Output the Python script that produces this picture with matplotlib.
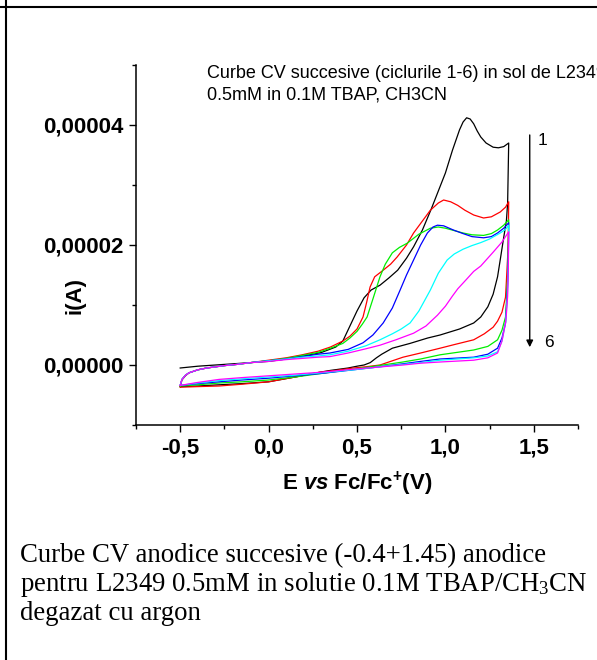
import numpy as np
import matplotlib.pyplot as plt
from matplotlib.lines import Line2D
from matplotlib.ticker import FuncFormatter, MultipleLocator

plt.rcParams['font.family'] = ['Liberation Sans', 'DejaVu Sans']
plt.rcParams['mathtext.fontset'] = 'custom'
plt.rcParams['mathtext.rm'] = 'Liberation Sans:bold'
plt.rcParams['mathtext.it'] = 'Liberation Sans:italic:bold'
plt.rcParams['mathtext.bf'] = 'Liberation Sans:bold'

# CV cycles 1-6: potential (V vs Fc/Fc+) and current (uA), forward then reverse sweep
E1 = [-0.50, -0.40, -0.30, -0.20, -0.10, 0.00, 0.10, 0.20, 0.30, 0.38, 0.42, 0.46, 0.50,
      0.54, 0.58, 0.63, 0.68, 0.73, 0.78, 0.82, 0.87, 0.92, 0.96, 1.00, 1.04, 1.08, 1.10,
      1.12, 1.14, 1.16, 1.18, 1.20, 1.23, 1.27, 1.30, 1.33, 1.358,
      1.355, 1.352, 1.345, 1.33, 1.31, 1.295, 1.27, 1.24, 1.20, 1.16, 1.08, 0.97, 0.90,
      0.80, 0.70, 0.64, 0.61, 0.575, 0.54, 0.50, 0.45, 0.35, 0.29, 0.15, 0.00, -0.15,
      -0.28, -0.40, -0.50]
I1 = [-0.5, -0.2, 0.0, 0.2, 0.4, 0.6, 1.0, 1.5, 2.1, 3.0, 4.0, 6.5, 9.0,
      11.2, 12.5, 13.3, 14.5, 15.8, 17.8, 19.7, 22.5, 26.0, 29.0, 32.0, 35.8, 39.2, 40.5,
      41.2, 41.0, 40.2, 39.0, 38.0, 37.0, 36.3, 36.2, 36.4, 37.0,
      32.0, 27.0, 24.0, 21.3, 17.5, 14.7, 11.8, 9.7, 8.0, 7.0, 6.0, 5.0, 4.5,
      3.6, 2.8, 1.8, 1.2, 0.4, 0.0, -0.2, -0.5, -0.9, -1.2, -2.0, -2.8, -3.1,
      -3.3, -3.5, -3.6]

E2 = [-0.50, -0.49, -0.47, -0.45, -0.40, -0.35, -0.25, -0.18, -0.10, 0.00, 0.10, 0.19,
      0.28, 0.35, 0.42, 0.46, 0.50, 0.534, 0.555, 0.574, 0.60, 0.648, 0.69, 0.727, 0.78,
      0.82, 0.87, 0.915, 0.96, 0.99, 1.03, 1.07, 1.11, 1.16, 1.216, 1.26, 1.31, 1.34, 1.358,
      1.356, 1.352, 1.345, 1.34, 1.32, 1.295, 1.27, 1.22, 1.16, 1.05, 0.97, 0.86, 0.76,
      0.68, 0.63, 0.55, 0.48, 0.38, 0.29, 0.15, 0.00, -0.15, -0.28, -0.40, -0.50]
I2 = [-3.6, -2.5, -1.8, -1.3, -0.8, -0.5, -0.1, 0.1, 0.4, 0.8, 1.2, 1.7,
      2.3, 3.0, 4.0, 4.8, 6.0, 8.0, 10.5, 13.0, 14.7, 15.8, 16.8, 18.0, 20.0,
      22.0, 24.0, 25.8, 27.0, 27.5, 27.2, 26.6, 25.8, 25.0, 24.5, 24.7, 25.5, 26.3, 27.2,
      22.0, 18.0, 14.0, 11.3, 8.8, 7.3, 6.3, 5.2, 4.2, 3.4, 2.8, 2.0, 1.3,
      0.5, 0.0, -0.3, -0.5, -0.9, -1.2, -2.0, -2.8, -3.2, -3.5, -3.6, -3.7]

E3 = [-0.50, -0.49, -0.47, -0.45, -0.40, -0.35, -0.25, -0.18, -0.10, 0.00, 0.10, 0.19,
      0.28, 0.35, 0.42, 0.46, 0.50, 0.53, 0.557, 0.59, 0.63, 0.66, 0.70, 0.74, 0.784,
      0.85, 0.915, 0.96, 1.00, 1.05, 1.10, 1.15, 1.216, 1.26, 1.295, 1.33, 1.358,
      1.356, 1.352, 1.345, 1.34, 1.32, 1.295, 1.24, 1.16, 0.97, 0.86, 0.76, 0.60, 0.48,
      0.30, 0.15, 0.00, -0.15, -0.28, -0.40, -0.50]
I3 = [-3.5, -2.4, -1.7, -1.3, -0.8, -0.5, -0.1, 0.1, 0.4, 0.7, 1.1, 1.6,
      2.1, 2.8, 3.6, 4.5, 5.6, 6.8, 8.0, 11.0, 14.7, 16.8, 18.7, 19.6, 20.3,
      21.8, 22.8, 23.0, 22.8, 22.4, 22.0, 21.7, 21.6, 21.9, 22.5, 23.3, 24.2,
      19.0, 14.7, 10.5, 8.0, 5.8, 4.2, 3.1, 2.5, 1.7, 1.0, 0.5, -0.2, -0.7,
      -1.4, -2.0, -2.5, -2.8, -3.0, -3.3, -3.5]

E4 = [-0.50, -0.49, -0.47, -0.45, -0.40, -0.35, -0.25, -0.18, -0.10, 0.00, 0.10, 0.19,
      0.28, 0.347, 0.45, 0.534, 0.59, 0.648, 0.70, 0.744, 0.78, 0.82, 0.86, 0.898, 0.93,
      0.955, 0.99, 1.045, 1.10, 1.15, 1.216, 1.26, 1.295, 1.33, 1.358,
      1.356, 1.352, 1.345, 1.34, 1.32, 1.295, 1.24, 1.16, 0.97, 0.86, 0.76, 0.60, 0.48,
      0.30, 0.15, 0.00, -0.15, -0.28, -0.40, -0.50]
I4 = [-3.4, -2.4, -1.7, -1.3, -0.8, -0.5, -0.1, 0.1, 0.4, 0.7, 1.0, 1.4,
      1.8, 2.0, 2.6, 3.7, 5.0, 7.0, 9.5, 12.5, 15.0, 17.5, 20.0, 22.0, 23.0,
      23.3, 23.2, 22.5, 21.9, 21.4, 21.2, 21.4, 22.0, 22.8, 23.7,
      18.0, 13.5, 9.5, 7.0, 4.5, 2.8, 1.8, 1.3, 1.0, 0.6, 0.2, -0.4, -0.8,
      -1.4, -1.8, -2.2, -2.5, -2.8, -3.1, -3.4]

E5 = [-0.50, -0.49, -0.47, -0.45, -0.40, -0.35, -0.25, -0.18, -0.10, 0.00, 0.10, 0.19,
      0.28, 0.347, 0.45, 0.55, 0.63, 0.70, 0.75, 0.80, 0.85, 0.915, 0.96, 1.01, 1.05,
      1.10, 1.15, 1.20, 1.25, 1.31, 1.34, 1.358,
      1.356, 1.352, 1.345, 1.34, 1.32, 1.295, 1.24, 1.16, 0.97, 0.86, 0.76, 0.60, 0.48,
      0.30, 0.15, 0.00, -0.15, -0.28, -0.40, -0.50]
I5 = [-3.4, -2.4, -1.7, -1.3, -0.8, -0.5, -0.1, 0.1, 0.4, 0.7, 1.0, 1.3,
      1.5, 1.7, 2.3, 3.2, 4.2, 5.2, 6.0, 7.0, 9.0, 12.5, 15.3, 17.5, 18.5,
      19.3, 19.9, 20.4, 21.0, 22.0, 22.6, 23.3,
      17.0, 12.5, 9.0, 7.0, 4.0, 2.2, 1.5, 1.2, 0.8, 0.4, 0.1, -0.4, -0.8,
      -1.3, -1.7, -2.0, -2.3, -2.6, -3.0, -3.4]

E6 = [-0.50, -0.49, -0.47, -0.45, -0.40, -0.35, -0.25, -0.18, -0.10, 0.00, 0.10, 0.19,
      0.28, 0.347, 0.45, 0.55, 0.63, 0.72, 0.82, 0.89, 0.955, 1.00, 1.04, 1.07, 1.12,
      1.16, 1.20, 1.27, 1.32, 1.358,
      1.356, 1.352, 1.345, 1.34, 1.32, 1.295, 1.24, 1.16, 0.97, 0.86, 0.76, 0.60, 0.48,
      0.30, 0.15, 0.00, -0.15, -0.28, -0.40, -0.50]
I6 = [-3.4, -2.4, -1.7, -1.3, -0.8, -0.5, -0.1, 0.1, 0.4, 0.6, 0.9, 1.1,
      1.3, 1.4, 2.0, 2.7, 3.3, 4.2, 5.3, 6.5, 8.3, 9.8, 11.5, 12.7, 14.3,
      15.6, 16.5, 18.8, 20.5, 22.2,
      16.0, 11.5, 8.5, 7.0, 4.0, 2.0, 1.2, 0.8, 0.5, 0.3, 0.0, -0.4, -0.7,
      -1.2, -1.5, -1.8, -2.1, -2.4, -2.9, -3.4]

cycles = [(E1, I1, 'black'), (E2, I2, 'red'), (E3, I3, '#00ee00'),
          (E4, I4, 'blue'), (E5, I5, 'cyan'), (E6, I6, 'magenta')]

fig = plt.figure(figsize=(5.97, 6.6), dpi=100)
ax = fig.add_axes([136 / 597, 1 - 425 / 660, 442 / 597, 360 / 660])

for E, I, c in cycles:
    ax.plot(E, np.array(I) * 1e-6, color=c, lw=0.9)

ax.set_xlim(-0.75, 1.75)
ax.set_ylim(-1e-5, 5e-5)
ax.spines['top'].set_visible(False)
ax.spines['right'].set_visible(False)
for s in ['left', 'bottom']:
    ax.spines[s].set_linewidth(1.1)

ax.xaxis.set_major_locator(MultipleLocator(0.5))
ax.xaxis.set_minor_locator(MultipleLocator(0.25))
ax.yaxis.set_major_locator(MultipleLocator(2e-5))
ax.yaxis.set_minor_locator(MultipleLocator(1e-5))
ax.xaxis.set_major_formatter(FuncFormatter(lambda v, p: f"{v:.1f}".replace('.', ',')))
ax.yaxis.set_major_formatter(FuncFormatter(lambda v, p: f"{v:.5f}".replace('.', ',')))
ax.tick_params(which='major', direction='out', length=5, width=1, labelsize=16, pad=4)
ax.tick_params(which='minor', direction='out', length=3, width=1)
for lab in ax.get_xticklabels() + ax.get_yticklabels():
    lab.set_fontweight('bold')

ax.set_xlabel(r"E $\mathit{vs}$ Fc/Fc$\mathregular{^{+}}$(V)", fontsize=16, fontweight='bold')
ax.xaxis.set_label_coords(0.5, -0.125)
ax.set_ylabel("i(A)", fontsize=16, fontweight='bold')
ax.yaxis.set_label_coords(-0.115, 0.361)

ax.text(-0.347, 47.8e-6, "Curbe CV succesive (ciclurile 1-6) in sol de L2349", fontsize=13,
        va='baseline', clip_on=False)
ax.text(-0.347, 44.3e-6, "0.5mM in 0.1M TBAP, CH3CN", fontsize=13, va='baseline', clip_on=False)

ax.annotate("", xy=(1.477, 2.5e-6), xytext=(1.477, 38.8e-6),
            arrowprops=dict(arrowstyle='-|>', color='black', lw=1, mutation_scale=10))
ax.text(1.52, 37.4e-6, "1", fontsize=12.5, va='center')
ax.text(1.56, 3.7e-6, "6", fontsize=12.5, va='center')

# caption below the chart
cap_font = dict(family='Liberation Serif', fontsize=19.3)
fig.text(20 / 597, 1 - 562 / 660, "Curbe CV anodice succesive (-0.4+1.45) anodice", **cap_font)
fig.text(20 / 597, 1 - 591 / 660, r"pentru L2349 0.5mM in solutie 0.1M TBAP/CH$\mathregular{_3}$CN",
         **cap_font)
fig.text(20 / 597, 1 - 620 / 660, "degazat cu argon", **cap_font)

# table cell borders
fig.add_artist(Line2D([0, 1], [1 - 6.5 / 660, 1 - 6.5 / 660], color='black', lw=1.5))
fig.add_artist(Line2D([6 / 597, 6 / 597], [0, 1], color='black', lw=1.5))

fig.savefig("out.png", dpi=100)
